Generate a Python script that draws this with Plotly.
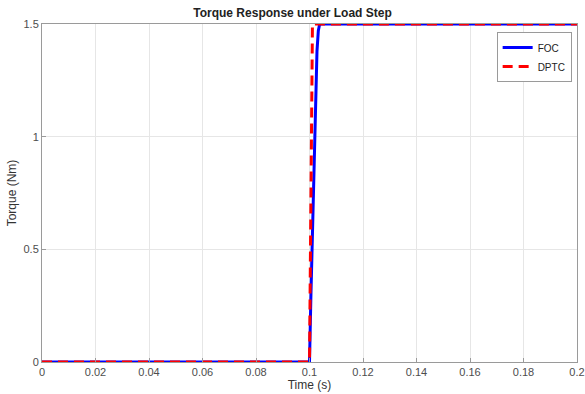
import plotly.graph_objects as go

foc_t = [0.0, 0.1, 0.1005, 0.101, 0.102, 0.1028, 0.1033, 0.1038, 0.2]
foc_v = [0.0, 0.0, 0.28, 0.55, 1.05, 1.38, 1.47, 1.5, 1.5]
dptc_t = [0.0, 0.1, 0.1011, 0.2]
dptc_v = [0.0, 0.0, 1.5, 1.5]

x_ticks = [0, 0.02, 0.04, 0.06, 0.08, 0.1, 0.12, 0.14, 0.16, 0.18, 0.2]
x_labels = ["0", "0.02", "0.04", "0.06", "0.08", "0.1", "0.12", "0.14", "0.16", "0.18", "0.2"]
y_ticks = [0, 0.5, 1, 1.5]
y_labels = ["0", "0.5", "1", "1.5"]

fig = go.Figure()
fig.add_trace(go.Scatter(x=foc_t, y=foc_v, mode="lines", name="FOC",
                         line=dict(color="#0000ff", width=3)))
fig.add_trace(go.Scatter(x=dptc_t, y=dptc_v, mode="lines", name="DPTC",
                         line=dict(color="#ff0000", width=3, dash="10px,6px")))

axis_common = dict(showline=True, linecolor="#9a9a9a", linewidth=1, mirror=True,
                   showgrid=True, gridcolor="#e6e6e6", gridwidth=1,
                   ticks="inside", ticklen=4, tickcolor="#9a9a9a",
                   tickfont=dict(family="Liberation Sans, Arial", size=11, color="#4d4d4d"),
                   zeroline=False, automargin=False)

fig.update_layout(
    width=585, height=394,
    margin=dict(l=42, r=8, t=24, b=32),
    paper_bgcolor="white", plot_bgcolor="white",
    title=dict(text="<b>Torque Response under Load Step</b>", x=0.5, xanchor="center",
               y=1 - 13 / 394, yanchor="middle", automargin=False,
               font=dict(family="Liberation Sans, Arial", size=12, color="#222222")),
    xaxis=dict(range=[0, 0.2], tickvals=x_ticks, ticktext=x_labels,
               title=dict(text="Time (s)", standoff=0,
                          font=dict(family="Liberation Sans, Arial", size=12, color="#333333")),
               **axis_common),
    yaxis=dict(range=[0, 1.5], tickvals=y_ticks, ticktext=y_labels,
               title=dict(text="Torque (Nm)", standoff=4,
                          font=dict(family="Liberation Sans, Arial", size=12, color="#333333")),
               **axis_common),
    legend=dict(x=0.99, y=0.976, xanchor="right", yanchor="top",
                bgcolor="white", bordercolor="#9a9a9a", borderwidth=1,
                font=dict(family="Liberation Sans, Arial", size=10, color="#222222"),
                tracegroupgap=0),
    showlegend=True,
)

fig.write_html("out.html", config={"displayModeBar": False},
               post_script="document.body.style.margin='0';")
